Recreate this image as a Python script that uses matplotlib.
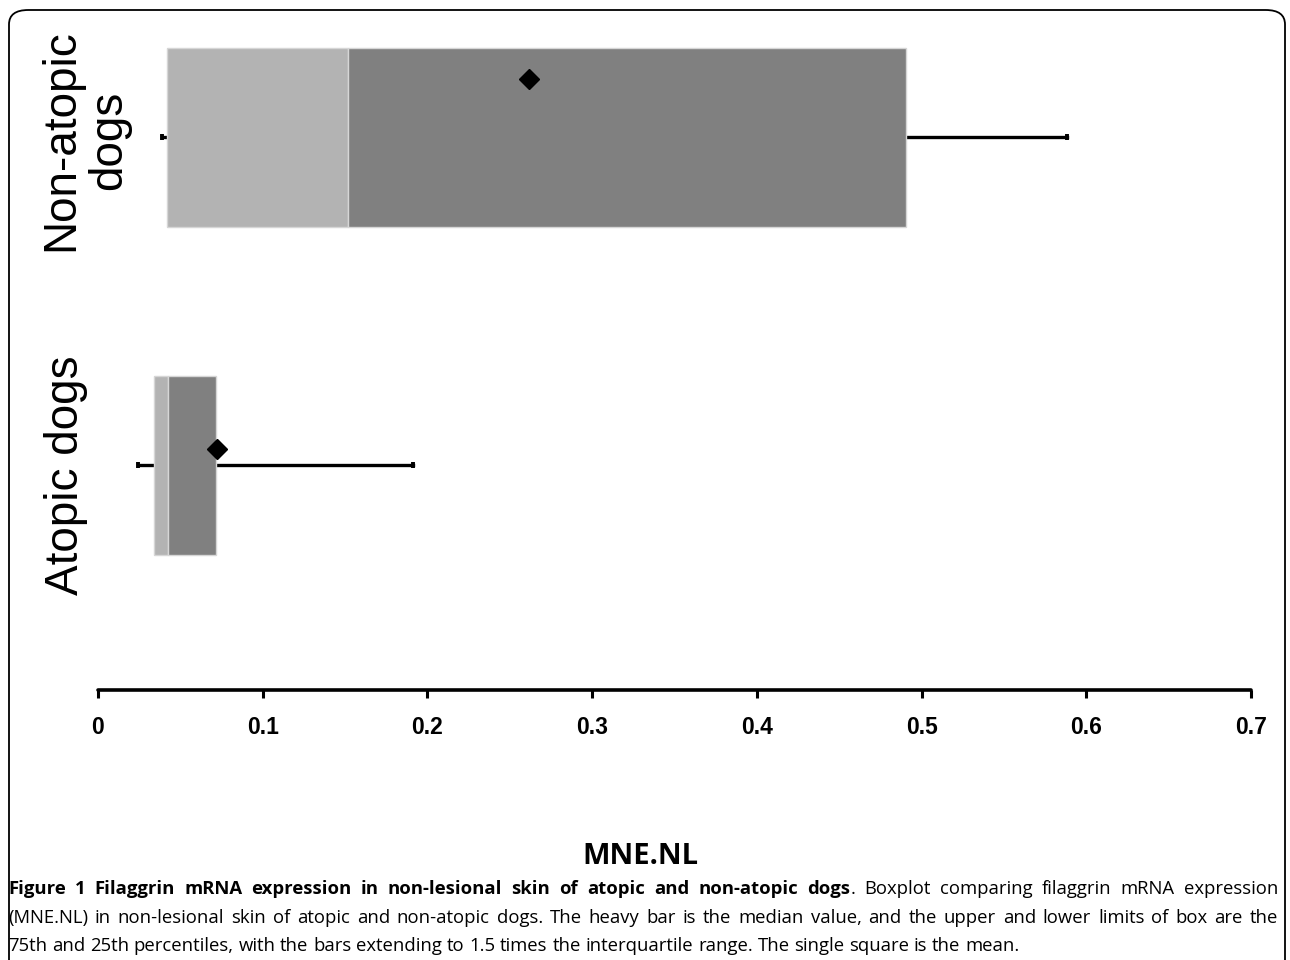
import matplotlib.pyplot as plt
from matplotlib.patches import FancyBboxPatch

# box statistics (MNE.NL)
groups = ['Atopic dogs', 'Non-atopic\ndogs']
whisker_lo = [0.0243, 0.0389]
q1 = [0.0342, 0.0416]
median = [0.0423, 0.1516]
q3 = [0.0715, 0.4906]
whisker_hi = [0.1913, 0.5882]
mean = [0.0721, 0.2617]
mean_shift = [0.049, 0.178]  # mean marker drawn above the centre line in the original

ticks = [0, 0.1, 0.2, 0.3, 0.4, 0.5, 0.6, 0.7]

caption_bold = 'Figure 1 Filaggrin mRNA expression in non-lesional skin of atopic and non-atopic dogs'
caption_rest = ['. Boxplot comparing filaggrin mRNA expression',
                '(MNE.NL) in non-lesional skin of atopic and non-atopic dogs. The heavy bar is the median value, and the upper and lower limits of box are the',
                '75th and 25th percentiles, with the bars extending to 1.5 times the interquartile range. The single square is the mean.']

cap_font = ['Liberation Sans Narrow', 'Open Sans', 'DejaVu Sans']
cap_size = 13.3


def put_line(fig, r, y, words, x0, x1, justify):
    # words: list of lists of (text, weight) pieces; pieces in a word sit flush
    widths = []
    for w in words:
        ww = 0
        for txt, wt in w:
            t = fig.text(0, 0, txt, fontsize=cap_size, fontweight=wt, family=cap_font)
            ww += t.get_window_extent(renderer=r).width
            t.remove()
        widths.append(ww)
    sp = fig.text(0, 0, 'a a', fontsize=cap_size, family=cap_font)
    sp2 = fig.text(0, 0, 'aa', fontsize=cap_size, family=cap_font)
    space = sp.get_window_extent(renderer=r).width - sp2.get_window_extent(renderer=r).width
    sp.remove()
    sp2.remove()
    if justify and len(words) > 1:
        space = (x1 - x0 - sum(widths)) / (len(words) - 1)
    x = x0
    W = fig.bbox.width
    for w, ww in zip(words, widths):
        xx = x
        for txt, wt in w:
            t = fig.text(xx / W, y, txt, fontsize=cap_size, fontweight=wt, family=cap_font,
                         va='center', ha='left')
            xx += t.get_window_extent(renderer=r).width
        x += ww + space


def main():
    fig = plt.figure(figsize=(12.9, 9.6), dpi=100)
    ax = fig.add_axes([98 / 1290, 1 - 690 / 960, (1251 - 98) / 1290, 680 / 960])

    pos = list(range(len(groups)))
    h = 0.545
    lo_part = [m - a for m, a in zip(median, q1)]
    hi_part = [b - m for m, b in zip(median, q3)]
    ax.barh(pos, lo_part, left=q1, height=h, color='#b3b3b3', edgecolor='#d6d6d6', lw=1, zorder=2)
    ax.barh(pos, hi_part, left=median, height=h, color='#808080', edgecolor='#d6d6d6', lw=1, zorder=2)

    for p, wl, a, b, wh in zip(pos, whisker_lo, q1, q3, whisker_hi):
        ax.plot([wl, a], [p, p], color='black', lw=2.4, zorder=1)
        ax.plot([b, wh], [p, p], color='black', lw=2.4, zorder=1)
        ax.plot([wl, wh], [p, p], ls='none', marker='|', ms=5, mew=2.8, color='black', zorder=1)

    ax.plot(mean, [p + s for p, s in zip(pos, mean_shift)], ls='none', marker='D',
            ms=10, color='black', zorder=3)

    ax.set_xlim(0, 0.7)
    ax.set_ylim(-0.684, 1.3875)
    for s in ['top', 'right', 'left']:
        ax.spines[s].set_visible(False)
    ax.spines['bottom'].set_linewidth(2.6)
    ax.spines['bottom'].set_capstyle('round')
    ax.set_yticks([])
    ax.set_xticks(ticks)
    ax.set_xticklabels([('%g' % t) for t in ticks], fontsize=16.5, fontweight='bold',
                       family='Liberation Sans')
    ax.tick_params(axis='x', length=6, width=2.2, pad=13, direction='out')
    ax.patch.set_alpha(0)

    # category labels, rotated
    fig.text(85 / 1290, 1 - 140 / 960, groups[1], rotation=90, ha='center', va='center',
             fontsize=33, family='Liberation Sans', linespacing=1.12)
    fig.text(66 / 1290, 1 - 475 / 960, groups[0], rotation=90, ha='center', va='center',
             fontsize=33, family='Liberation Sans')

    fig.text(640 / 1290, 1 - 857 / 960, 'MNE.NL', ha='center', va='center', fontsize=21,
             fontweight='bold', family=cap_font)

    # caption, justified like the journal layout
    fig.canvas.draw()
    r = fig.canvas.get_renderer()
    bold_words = caption_bold.split(' ')
    rest0 = caption_rest[0].split(' ')
    line1 = [[(w, 'bold')] for w in bold_words[:-1]]
    line1.append([(bold_words[-1], 'bold'), (rest0[0], 'normal')])
    line1 += [[(w, 'normal')] for w in rest0[1:]]
    put_line(fig, r, 1 - 889 / 960, line1, 8, 1278, True)
    put_line(fig, r, 1 - 918 / 960, [[(w, 'normal')] for w in caption_rest[1].split(' ')],
             8, 1278, True)
    put_line(fig, r, 1 - 946 / 960, [[(w, 'normal')] for w in caption_rest[2].split(' ')],
             8, 1278, False)

    # frame around the figure, open at the bottom
    frame = FancyBboxPatch((9 / 1290, -0.1), 1276 / 1290, 1.1 - 10 / 960,
                           boxstyle='round,pad=0,rounding_size=0.015',
                           transform=fig.transFigure, fill=False, ec='black', lw=1.3)
    fig.patches.append(frame)

    fig.savefig('out.png', dpi=100)


if __name__ == '__main__':
    main()
